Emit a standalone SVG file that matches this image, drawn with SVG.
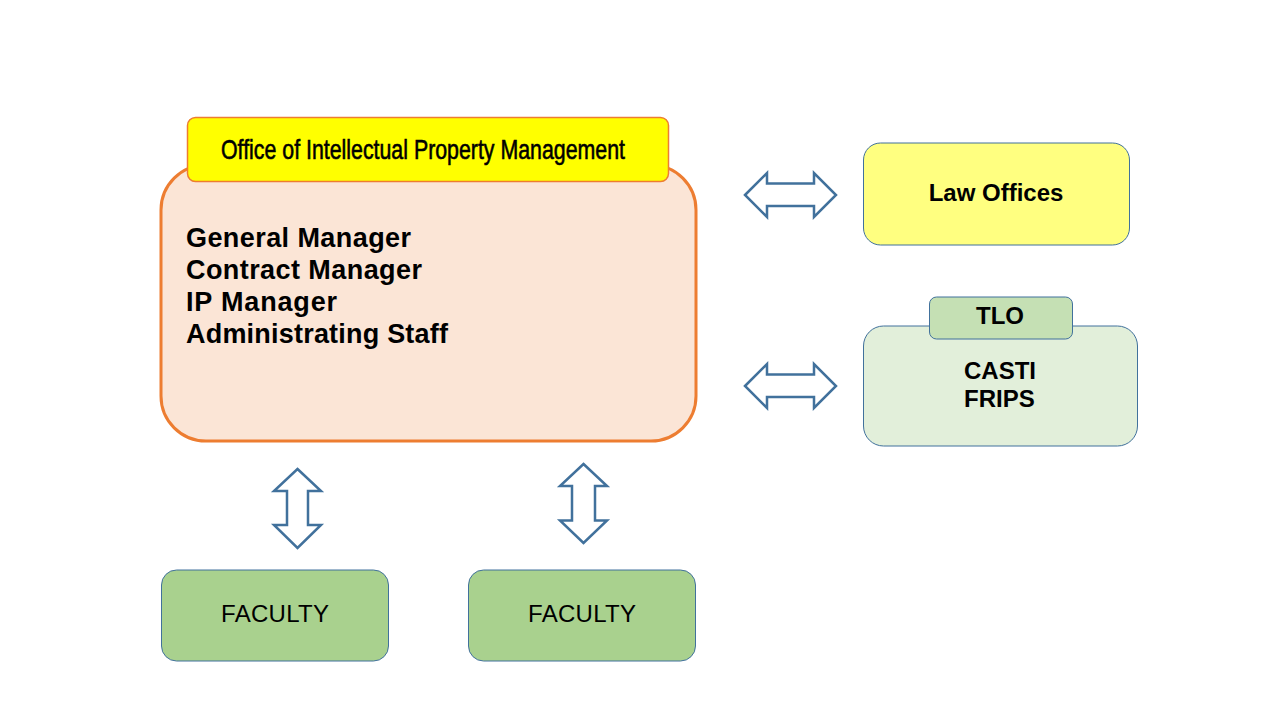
<svg xmlns="http://www.w3.org/2000/svg" width="1280" height="720" viewBox="0 0 1280 720">
<style>
.arrow{fill:#ffffff;stroke:#41719C;stroke-width:2.5;stroke-linejoin:miter}
.bl{stroke:#41719C;stroke-width:1}
.b{font-family:"Liberation Sans",Arial,sans-serif;font-weight:bold;fill:#000}
.n{font-family:"Liberation Sans",Arial,sans-serif;fill:#000}
</style>
<rect width="1280" height="720" fill="#ffffff"/>
<g id="oipm">
<rect x="161" y="165" width="535" height="276" rx="45" ry="45" fill="#FBE5D6" stroke="#ED7D31" stroke-width="3"/>
<rect x="187.5" y="117.5" width="481" height="64" rx="8" ry="8" fill="#FFFF00" stroke="#ED7D31" stroke-width="1.5"/>
<text x="221" y="159" class="n" font-size="28" stroke="#000" stroke-width="0.6" textLength="404" lengthAdjust="spacingAndGlyphs">Office of Intellectual Property Management</text>
<text x="186" y="247" class="b" font-size="27" textLength="225" lengthAdjust="spacing">General Manager</text>
<text x="186" y="279" class="b" font-size="27" textLength="236" lengthAdjust="spacing">Contract Manager</text>
<text x="186" y="311" class="b" font-size="27" textLength="151" lengthAdjust="spacing">IP Manager</text>
<text x="186" y="343" class="b" font-size="27" textLength="262" lengthAdjust="spacing">Administrating Staff</text>
</g>
<g id="law">
<rect x="863.5" y="143" width="266" height="102" rx="17" ry="17" fill="#FFFF80" class="bl"/>
<text x="996" y="201" class="b" font-size="24" text-anchor="middle">Law Offices</text>
</g>
<g id="tlo">
<rect x="863.5" y="326" width="274" height="120" rx="20" ry="20" fill="#E2EFDA" class="bl"/>
<rect x="929.5" y="297" width="143" height="42" rx="7" ry="7" fill="#C5E0B4" class="bl"/>
<text x="1000" y="324" class="b" font-size="24" text-anchor="middle">TLO</text>
<text x="964" y="379" class="b" font-size="24">CASTI</text>
<text x="964" y="407" class="b" font-size="24">FRIPS</text>
</g>
<g id="faculty1">
<rect x="161.5" y="570" width="227" height="91" rx="15" ry="15" fill="#A9D18E" class="bl"/>
<text x="221" y="622" class="n" font-size="24" textLength="108" lengthAdjust="spacing">FACULTY</text>
</g>
<g id="faculty2">
<rect x="468.5" y="570" width="227" height="91" rx="15" ry="15" fill="#A9D18E" class="bl"/>
<text x="528" y="622" class="n" font-size="24" textLength="108" lengthAdjust="spacing">FACULTY</text>
</g>
<g id="connectors">
<polygon class="arrow" points="745,195 767,173 767,183.5 814,183.5 814,173 836,195 814,217 814,206 767,206 767,217"/>
<polygon class="arrow" points="745,386 767,364 767,374.5 814,374.5 814,364 836,386 814,408 814,397 767,397 767,408"/>
<polygon class="arrow" points="297.5,469 321,491 308,491 308,525 321,525 297.5,548 274,525 287,525 287,491 274,491"/>
<polygon class="arrow" points="583.5,464 607,486 595,486 595,520.5 607,520.5 583.5,543 560,520.5 572,520.5 572,486 560,486"/>
</g>
</svg>
